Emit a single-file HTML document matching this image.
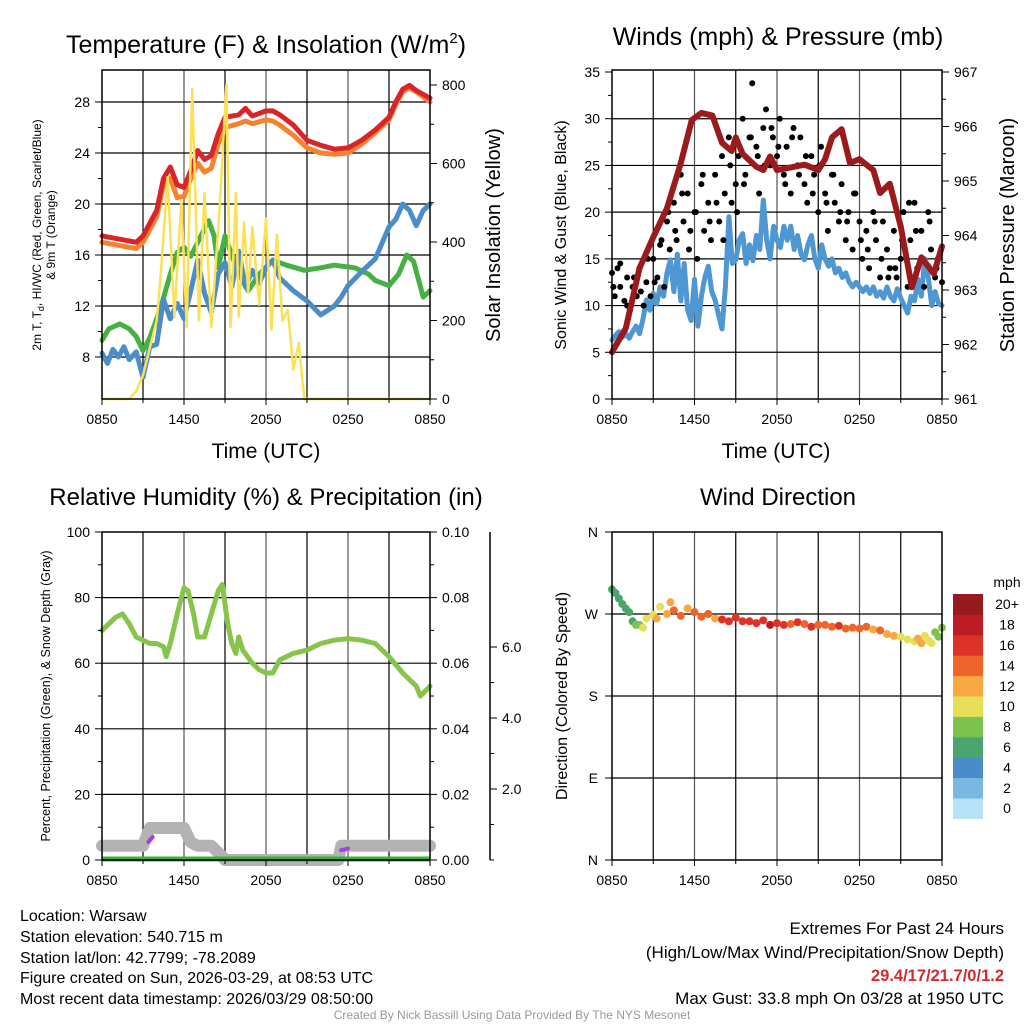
<!DOCTYPE html>
<html><head><meta charset="utf-8">
<style>
body{margin:0;background:#fff}
svg{display:block;font-family:"Liberation Sans",sans-serif}
</style></head>
<body>
<svg id="fig" width="1024" height="1024" viewBox="0 0 1024 1024" xmlns="http://www.w3.org/2000/svg">
<rect x="0" y="0" width="1024" height="1024" fill="#fff"/>
<g id="layer"></g>
<!-- titles -->
<text x="266" y="53" font-size="25" text-anchor="middle">Temperature (F) &amp; Insolation (W/m<tspan font-size="15" dy="-10">2</tspan><tspan dy="10">)</tspan></text>
<text x="778" y="45" font-size="25" text-anchor="middle">Winds (mph) &amp; Pressure (mb)</text>
<text x="266" y="505" font-size="24" text-anchor="middle">Relative Humidity (%) &amp; Precipitation (in)</text>
<text x="778" y="505" font-size="24" text-anchor="middle">Wind Direction</text>
<text x="266" y="458" font-size="21" text-anchor="middle">Time (UTC)</text>
<text x="776" y="458" font-size="21" text-anchor="middle">Time (UTC)</text>
<text transform="translate(41,235) rotate(-90)" font-size="12" text-anchor="middle">2m T, T<tspan font-size="9" dy="3">d</tspan><tspan dy="-3">, HI/WC (Red, Green, Scarlet/Blue)</tspan></text>
<text transform="translate(55,235) rotate(-90)" font-size="12" text-anchor="middle">&amp; 9m T (Orange)</text>
<text transform="translate(500,235) rotate(-90)" font-size="20" text-anchor="middle">Solar Insolation (Yellow)</text>
<text transform="translate(566,235) rotate(-90)" font-size="16" text-anchor="middle">Sonic Wind &amp; Gust (Blue, Black)</text>
<text transform="translate(1014,235) rotate(-90)" font-size="20" text-anchor="middle">Station Pressure (Maroon)</text>
<text transform="translate(50,696) rotate(-90)" font-size="12.5" text-anchor="middle">Percent, Precipitation (Green), &amp; Snow Depth (Gray)</text>
<text transform="translate(567,696) rotate(-90)" font-size="16" text-anchor="middle">Direction (Colored By Speed)</text>
<!-- footer -->
<g font-size="16">
<text x="20" y="921">Location: Warsaw</text>
<text x="20" y="942">Station elevation: 540.715 m</text>
<text x="20" y="963">Station lat/lon: 42.7799; -78.2089</text>
<text x="20" y="983">Figure created on Sun, 2026-03-29, at 08:53 UTC</text>
<text x="20" y="1004">Most recent data timestamp: 2026/03/29 08:50:00</text>
</g>
<g font-size="17" text-anchor="end">
<text x="1004" y="934">Extremes For Past 24 Hours</text>
<text x="1004" y="958">(High/Low/Max Wind/Precipitation/Snow Depth)</text>
<text x="1004" y="981" fill="#d42a2a" font-weight="bold" font-size="16.5">29.4/17/21.7/0/1.2</text>
<text x="1004" y="1004">Max Gust: 33.8 mph On 03/28 at 1950 UTC</text>
</g>
<text x="512" y="1019" font-size="12" fill="#999" text-anchor="middle">Created By Nick Bassill Using Data Provided By The NYS Mesonet</text>
</svg>
<script>
// ---------- data ----------
const xTickLabels = ["0850","1450","2050","0250","0850"];
const tempTicks = [8,12,16,20,24,28];
const solarTicks = [0,200,400,600,800];
const windTicks = [0,5,10,15,20,25,30,35];
const presTicks = [961,962,963,964,965,966,967];
const rhTicks = [0,20,40,60,80,100];
const precipTicks = ["0.00","0.02","0.04","0.06","0.08","0.10"];
const snowTicks = ["2.0","4.0","6.0"];
const dirTicks = ["N","E","S","W","N"];
const speedBins = ["0","2","4","6","8","10","12","14","16","18","20+"];
const binColors = ["#b6e2f7","#7ab8e3","#4a8dc6","#4aa66e","#7cc24e","#e6e058","#f7a843","#ef6429","#dc3228","#bd1c24","#961a1e"];

const tTimes = [0,1,2,2.5,3,4,4.5,5,5.5,6,6.5,7,7.5,8,8.5,9,10,10.5,11,12,12.5,13,14,15,16,17,18,19,20,21,21.5,22,22.5,23,24];
const tRed = [17.5,17.3,17.1,17.0,17.5,19.5,22.0,22.9,21.5,21.3,22.6,24.2,23.5,23.8,25.5,26.8,27.0,27.5,26.9,27.3,27.3,27.0,26.2,25.0,24.6,24.3,24.4,25.0,25.8,26.8,28.0,29.0,29.3,28.9,28.3];
const tOrange = [17.0,16.8,16.6,16.5,17.0,19.0,21.5,22.0,20.5,20.6,22.0,23.2,22.5,22.8,24.7,26.0,26.3,26.5,26.3,26.6,26.5,26.2,25.4,24.4,24.0,23.9,24.0,24.7,25.6,26.6,27.8,28.8,29.1,28.8,28.0];
const gTimes = [0,0.5,1.3,2,2.5,3,3.5,4.3,5,5.5,6,6.5,7,7.8,8.2,8.5,9,9.5,10,10.7,11.5,12.5,13.5,14.8,16,17,18.5,19.5,20,21,21.7,22.3,22.8,23.5,24];
const tGreen = [9.3,10.2,10.6,10.2,9.6,8.5,9.5,11.9,14.5,16.2,16.6,15.9,17.0,18.7,17.5,15.0,17.5,16.0,14.5,13.2,14.5,15.6,15.2,14.8,15.0,15.2,15.0,14.5,14.0,13.6,14.5,16.0,15.5,12.7,13.2];
const bTimes = [0,0.4,0.8,1.2,1.6,2,2.5,3,3.5,4,4.5,5,5.5,6,6.5,7,7.5,8,8.5,9,9.5,10,10.5,11,11.5,12,12.5,13,14,15,16,17,17.5,18,19,20,21,21.5,22,22.5,23,23.5,24];
const tBlue = [8.3,7.5,8.6,8.0,8.8,7.8,8.4,6.4,8.8,9.0,12.5,11.0,12.2,11.0,13.2,15.6,13.0,11.5,14.5,15.4,13.5,16.3,13.5,14.8,13.8,15.0,15.6,14.2,13.2,12.4,11.3,12.0,12.7,13.6,14.7,15.7,18.2,18.8,20.0,19.5,18.3,19.5,20.0];
const sTimes = [0,2,2.5,3,3.5,4,4.3,4.8,5.3,5.8,6.2,6.6,7.1,7.5,8,8.6,9.1,9.4,9.8,10,10.4,10.7,11,11.5,12,12.4,12.8,13.2,13.6,14,14.4,14.8,24];
const solar = [0,0,20,60,130,200,320,565,209,507,183,790,200,525,183,480,800,183,525,210,450,270,438,240,460,176,420,200,227,74,143,0,0];

const windSpd = [6.3,6.8,7.2,6.6,7.0,6.5,7.2,7.8,7.0,
 8.5,10.6,9.5,11.3,10.2,12.0,11.0,13.5,
 14.9,11.5,15.5,10.5,14.5,9.5,8.4,12.8,
 7.8,11,13,14.2,11.5,10.6,9.0,7.5,
 12,19.5,14.5,14.9,17,17.7,14.5,16.5,
 14.8,17.5,16,21.3,17,15,18.5,17,
 16.2,18.5,17,18.5,16,17.5,15.5,14.9,
 16.5,17.5,15,14,16.5,15,14.2,15,
 13.5,14,13,13.5,12.5,12,12.5,12,
 11.5,12,11.3,12,11,11.5,10.8,12,
 11,10.5,11.8,10.8,10,9.2,11,10.5,
 12.8,11,15,13,10,11.5,10.2,10];
const wTimes = windSpd.map((_,i)=>i*0.25);
const pTimes = [0,1,2,3,4,5,5.8,6.5,7.3,8,8.7,9,9.5,10.5,11,11.5,12,13,14,15,15.5,16,16.7,17.3,18,19,19.5,20.2,21,21.8,22.5,23.4,24];
const pressure = [961.86,962.3,963.4,963.97,964.5,965.33,966.12,966.25,966.2,965.7,965.55,965.8,965.5,965.26,965.2,965.45,965.2,965.25,965.3,965.2,965.4,965.8,965.95,965.33,965.4,965.2,964.78,964.95,964.16,963.05,963.6,963.3,963.8];
const gTimesG = [0,0.2,0.4,0.6,0.9,1.1,1.3,1.5,1.8,2.0,2.3,2.5,2.8,3.0,3.3,3.5,3.8,4.0,4.2,4.5,4.7,5.0,5.2,5.5,5.7,6.0,6.2,6.5,6.7,7.0,7.2,7.5,7.8,8.0,8.2,8.5,8.7,9.0,9.2,9.5,9.7,10.0,10.2,10.5,10.7,11.0,11.2,11.5,11.7,12.0,12.2,12.5,12.7,13.0,13.2,13.5,13.7,14.0,14.2,14.5,14.7,15.0,15.2,15.5,15.7,16.0,16.2,16.5,16.7,17.0,17.2,17.5,17.7,18.0,18.2,18.5,18.7,19.0,19.2,19.5,19.7,20.0,20.2,20.5,20.7,21.0,21.2,21.5,21.7,22.0,22.2,22.5,22.7,23.0,23.2,23.5,23.7,24.0];
const gusts = [13.5,11,14,12,10.5,13,9.5,12,11,14,10,12.5,11,15,13,16.5,12,19,16,21,17,24,19,22,18,20,15,23,18,21,17,24,19,26,22,28,21,23,26,30,24,28,33.8,27,22,29,31,25,28,26,30,24,27,22,29,25,28,23,21,26,24,20,27,22,18,24,21,19,23,17,20,16,22,19,15,18,14,20,17,13,19,16,14,18,13,15,20,12,17,21,14,18,12,20,16,13,15,12.5];
const gusts2 = [12,14.5,10,13,11.5,15,12.5,17,20,18,22,16,20,24,19,21,17,25,20,23,28,26,25,29,27,23,28,24,26,22,25,21,24,20,19,22,17,16,19,15,13,14,17,21,18,15,19,14];
const gTimes2 = gusts2.map((_,i)=>0.1+i*0.5);

const rhTimes = [0,0.5,1,1.5,2,2.5,3,3.5,4,4.5,4.7,5,5.5,6,6.3,6.7,7,7.5,8,8.5,8.8,9.2,9.5,9.8,10,10.3,11,11.5,12,12.5,13,14,15,16,17,18,19,20,21,22,23,23.3,24];
const rh = [70,72,74,75,72,68,67,66,66,65,62,66,75,83,82,75,68,68,75,82,84,72,66,63,68,64,60,58,57,57,61,63,64,66,67,67.5,67,66,62,57,53,50,53];
const snowTimes = [0,3,3.5,4,6,6.5,7,8,8.8,9,17.3,17.5,18,24];
const snowDepth = [0.4,0.4,0.9,0.9,0.9,0.5,0.4,0.4,0.1,0,0,0.4,0.4,0.4];

const dTimes = [0,0.25,0.5,0.75,1,1.25,1.5,1.75,2,2.25,2.5,3,3.25,3.5,4,4.25,4.5,5,5.5,6,6.5,7,7.5,8,8.5,9,9.5,10,10.5,11,11.5,12,12.5,13,13.5,14,14.5,15,15.5,16,16.5,17,17.5,18,18.5,19,19.5,20,20.5,21,21.5,22,22.25,22.5,22.75,23,23.25,23.5,23.75,24];
const wdir = [297,293,287,281,276,272,262,258,258,255,265,269,265,278,270,283,274,268,276,272,267,270,265,264,262,266,262,262,260,263,258,260,258,259,261,259,256,258,258,256,257,254,255,254,256,253,252,248,246,245,242,240,243,238,246,241,238,250,245,255];
const dSpeed = [6,6,7,7,6,6,7,8,9,10,10,11,12,11,13,12,14,15,13,14,14,15,13,16,16,17,16,17,17,16,18,17,16,15,16,15,16,14,15,15,16,15,14,14,15,13,14,12,12,11,11,10,12,12,11,10,11,9,8,8];

// ---------- helpers ----------
const NS="http://www.w3.org/2000/svg";
const layer=document.getElementById('layer');
function mk(tag,attrs,parent){const e=document.createElementNS(NS,tag);for(const k in attrs)e.setAttribute(k,attrs[k]);(parent||layer).appendChild(e);return e;}
function txt(s,x,y,size,anchor,parent){const t=mk('text',{x:x,y:y,'font-size':size,'text-anchor':anchor||'middle'},parent);t.textContent=s;return t;}

const P={
 temp:{x0:102,x1:430,y0:70,y1:399},
 wind:{x0:612,x1:942,y0:70,y1:399},
 rh:{x0:102,x1:430,y0:532,y1:860},
 dir:{x0:612,x1:942,y0:532,y1:860}
};
function sx(p,h){return p.x0+(p.x1-p.x0)*h/24;}
function lin(d0,d1,r0,r1){return v=>r0+(v-d0)*(r1-r0)/(d1-d0);}

const yTemp=lin(28,8,102,357);
const ySolar=lin(0,800,399,85);
const yWind=lin(0,35,399,72);
const yPres=lin(961,967,399,72);
const yRH=lin(0,100,860,532);
const ySnow=lin(0,6,860,647);
const yDir=lin(0,360,860,532);

function frame(p,name){
 const g=mk('g',{});
 
 
 for(let i=1;i<8;i++){const x=p.x0+(p.x1-p.x0)*i/8;mk('line',{x1:x,x2:x,y1:p.y0,y2:p.y1,stroke:i%2?'#000':'#555','stroke-width':1.2},g);}
 return g;
}
function hgrid(g,p,ys){ys.forEach(y=>mk('line',{x1:p.x0,x2:p.x1,y1:y,y2:y,stroke:'#000','stroke-width':1.2},g));}
function box(p,name){const r=mk('rect',{x:p.x0,y:p.y0,width:p.x1-p.x0,height:p.y1-p.y0,fill:'none',stroke:'#000','stroke-width':1.5});}
function xlabels(p,name){
 const g=mk('g',{});
 xTickLabels.forEach((s,i)=>{const x=sx(p,i*6);txt(s,x,p.y1+25,14,'middle',g);mk('line',{x1:x,x2:x,y1:p.y1,y2:p.y1+6,stroke:'#000'},g);});
 for(let i=0;i<=8;i++){const x=sx(p,i*3);mk('line',{x1:x,x2:x,y1:p.y1,y2:p.y1+4,stroke:'#000'},g);}
}
function yaxis(vals,labels,f,x,side,name,minorStep){
 const g=mk('g',{});
 vals.forEach((v,i)=>{const y=f(v);const d=side<0?-7:7;mk('line',{x1:x,x2:x+d,y1:y,y2:y,stroke:'#000'},g);
  txt(labels[i],x+(side<0?-12:12),y+5,14,side<0?'end':'start',g);});
 if(minorStep){for(let k=0;k<vals.length-1;k++){const y=(f(vals[k])+f(vals[k+1]))/2;mk('line',{x1:x,x2:x+(side<0?-4:4),y1:y,y2:y,stroke:'#000'},g);}}
 return g;
}
function path(p,times,vals,fy,color,w,name){
 let d='';times.forEach((t,i)=>{d+=(i?'L':'M')+sx(p,t).toFixed(1)+','+fy(vals[i]).toFixed(1);});
 const e=mk('path',{d:d,fill:'none',stroke:color,'stroke-width':w,'stroke-linejoin':'round','stroke-linecap':'round'});
 
 
 return e;
}

// ---------- panel 1 ----------
{const p=P.temp;const g=frame(p,'temp');hgrid(g,p,tempTicks.map(yTemp));
 path(p,tOrange.length?tTimes:[],tOrange,yTemp,'#f5822e',5,'9m-temp-line');
 path(p,tTimes,tRed,yTemp,'#d9252a',5,'2m-temp-line');
 path(p,gTimes,tGreen,yTemp,'#45b044',5,'dewpoint-line');
 path(p,bTimes,tBlue,yTemp,'#4a8dc8',5,'wind-chill-line');
 path(p,sTimes,solar,v=>Math.max(p.y0,ySolar(v)),'#fce157',2.5,'solar-insolation-line');
 box(p,'temp');xlabels(p,'temp');
 yaxis(tempTicks,tempTicks.map(String),yTemp,p.x0,-1,'temp-y-axis',true);
 yaxis(solarTicks,solarTicks.map(String),ySolar,p.x1,1,'solar-y-axis',true);}

// ---------- panel 2 ----------
{const p=P.wind;const g=frame(p,'wind');hgrid(g,p,[5,10,15,20,25,30].map(yWind));
 path(p,wTimes,windSpd,yWind,'#4f97d2',5,'sonic-wind-line');
 const gg=mk('g',{});
 gTimesG.forEach((t,i)=>{const c=mk('circle',{cx:sx(p,t),cy:yWind(gusts[i]),r:3,fill:'#000'},gg);});
 gTimes2.forEach((t,i)=>{const c=mk('circle',{cx:sx(p,t),cy:yWind(gusts2[i]),r:3,fill:'#000'},gg);});
 path(p,pTimes,pressure,yPres,'#9b1a1c',6,'pressure-line');
 box(p,'wind');xlabels(p,'wind');
 yaxis(windTicks,windTicks.map(String),yWind,p.x0,-1,'wind-y-axis',true);
 yaxis(presTicks,presTicks.map(String),yPres,p.x1,1,'pressure-y-axis',true);}

// ---------- panel 3 ----------
{const p=P.rh;const g=frame(p,'rh');hgrid(g,p,[20,40,60,80].map(yRH));
 path(p,snowTimes,snowDepth,ySnow,'#b3b3b3',12,'snow-depth-line');
 const pr1=mk('path',{d:`M${sx(p,3.4)},${yRH(5.5)}L${sx(p,3.7)},${yRH(7)}`,stroke:'#a040f0','stroke-width':4,'stroke-linecap':'round',fill:'none'});
 const pr2=mk('path',{d:`M${sx(p,17.5)},${yRH(3)}L${sx(p,18)},${yRH(3.5)}`,stroke:'#a040f0','stroke-width':4,'stroke-linecap':'round',fill:'none'});
 const pl=mk('line',{x1:p.x0,x2:p.x1,y1:p.y1-1,y2:p.y1-1,stroke:'#3fae3f','stroke-width':5});
 path(p,rhTimes,rh,yRH,'#86c54a',5,'relative-humidity-line');
 box(p,'rh');xlabels(p,'rh');
 yaxis(rhTicks,rhTicks.map(String),yRH,p.x0,-1,'rh-y-axis',true);
 yaxis(rhTicks,precipTicks,yRH,p.x1,1,'precip-y-axis',true);
 const sa=mk('line',{x1:490,x2:490,y1:532,y2:860,stroke:'#000','stroke-width':1.5});
 yaxis([2,4,6],snowTicks,ySnow,490,1,'snow-y-axis',false);
 [0,1,3,5].forEach(v=>mk('line',{x1:490,x2:494,y1:ySnow(v),y2:ySnow(v),stroke:'#000'}));}

// ---------- panel 4 ----------
{const p=P.dir;const g=frame(p,'dir');hgrid(g,p,[90,180,270].map(yDir));
 const gg=mk('g',{});
 dTimes.forEach((t,i)=>{const b=Math.min(10,Math.max(0,Math.floor(dSpeed[i]/2)));const c=mk('circle',{cx:sx(p,t),cy:yDir(wdir[i]),r:4,fill:binColors[b]},gg);});
 box(p,'dir');xlabels(p,'dir');
 const ag=mk('g',{});
 dirTicks.forEach((s,i)=>{const y=yDir(i*90);txt(s,p.x0-14,y+5,14,'end',ag);mk('line',{x1:p.x0,x2:p.x0-7,y1:y,y2:y,stroke:'#000'},ag);});
 const cb=mk('g',{});
 txt('mph',1007,587,14,'middle',cb);
 const h=20.4;
 speedBins.forEach((s,i)=>{const y=594+(10-i)*h;mk('rect',{x:953,y:y,width:30,height:h+0.5,fill:binColors[i]},cb);txt(s,1007,y+h/2+5,14,'middle',cb);});}
</script>
</body></html>
